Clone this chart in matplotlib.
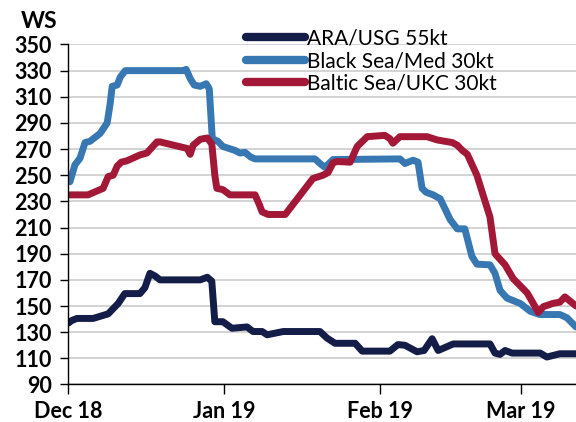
import numpy as np
import pandas as pd
import matplotlib
matplotlib.use("Agg")
import matplotlib.pyplot as plt
import matplotlib.dates as mdates

plt.rcParams['font.family'] = ['Lato', 'DejaVu Sans']

# days since 1 Dec 2018 and WS values
ara_days = [0, 0.7, 1.7, 4.9, 7.9, 9.9, 11.2, 14.2, 15.2, 16.2, 17.2, 18.2, 26.2, 27.6, 28.5,
            29.1, 30.7, 32.5, 35.5, 36.7, 38.5, 39.5, 42.7, 50, 51.4, 53, 57, 58.4, 63.9,
            65.5, 66.9, 69.3, 70.7, 72.3, 73.5, 76.5, 83.8, 84.8, 85.8, 86.8, 88.2, 93.8,
            95.1, 97.7, 100.9]
ara_ws = [137, 139, 140.5, 140.5, 144, 152, 159.5, 159.5, 164, 175, 173, 170, 170, 172, 169,
          138, 138, 133, 134, 130.5, 130.5, 128, 130.5, 130.5, 125.5, 121.5, 121.5, 115.5, 115.5,
          120.5, 120, 115, 116, 125, 116, 121, 121, 114, 113, 116, 114, 114,
          111, 113.5, 113.5]

bsm_days = [0.3, 1.3, 2.3, 3.3, 4.3, 6.3, 7.7, 8.3, 8.7, 9.7, 10.3, 11.3, 22.8, 23.4, 24.2,
            25, 26.2, 27.4, 28, 28.6, 29.7, 30.7, 33.1, 34.1, 35.1, 36.2, 37.1, 49, 50, 51,
            52.6, 65.9, 66.9, 68.5, 69.5, 70.3, 71.1, 72.5, 73.9, 75.9, 77.3, 78.8, 80.2,
            81.2, 83.8, 84.8, 85.8, 87.2, 89.8, 91.8, 93.7, 97.7, 99.1, 100.9]
bsm_ws = [245, 258, 263, 275, 276, 282, 290, 305, 318, 319, 325, 330, 330, 331, 324,
          319, 318, 320, 316, 278, 276, 272, 269, 267, 267.5, 264, 262.5, 262.5, 259, 256,
          262, 262.5, 259, 261.5, 260, 240, 237, 235, 232, 216, 209, 209, 188,
          182, 181.5, 175, 162, 156, 152, 146, 143.5, 143.5, 141, 134]

bal_days = [0, 3.9, 6.9, 7.9, 8.9, 9.7, 10.5, 11.6, 14.2, 15.6, 17.6, 18.2, 23.6, 24.2, 24.8,
            26.2, 27.6, 28.5, 29.1, 29.5, 30.7, 32.1, 37.1, 37.9, 38.5, 39.7, 43.1, 48.6,
            50.6, 51.6, 52.6, 53.4, 56, 57.4, 59.4, 62.9, 63.9, 64.5, 65.9, 71.3, 73.3, 76.3,
            77.3, 78.3, 79.3, 81.2, 83.8, 84.8, 86.8, 88.4, 91.2, 92.4, 93.4, 94.4, 96.3,
            97.7, 98.7, 100.9]
bal_ws = [235, 235, 240, 249, 250, 257, 260, 261, 265.5, 267, 275.5, 275.5, 270.5, 266, 273,
          277.5, 278.5, 274, 250, 240, 239, 235, 235, 228, 222, 220, 220, 247.5,
          250, 252, 259.5, 260.5, 260, 272, 279.5, 280.5, 278, 274.5, 279.5, 279.5, 277, 275,
          273, 269, 266, 250, 218, 190, 181.5, 171, 160, 152, 145, 149.5, 152,
          153, 157, 150]

labels = ['ARA/USG 55kt', 'Black Sea/Med 30kt', 'Baltic Sea/UKC 30kt']
colors = ['#141c48', '#3878b2', '#a31737']

start = pd.Timestamp('2018-12-01')
def to_dates(days):
    return start + pd.to_timedelta(np.array(days), unit='D')

fig = plt.figure(figsize=(5.76, 4.22), dpi=100)
ax = fig.add_axes([0.1188, 0.0889, 0.8812, 0.8057])

for d, v, lab, c in zip([ara_days, bsm_days, bal_days], [ara_ws, bsm_ws, bal_ws], labels, colors):
    ax.plot(to_dates(d), v, color=c, lw=5, label=lab,
            solid_capstyle='round', solid_joinstyle='round')

ax.set_ylim(90, 350)
ax.set_yticks(np.arange(90, 351, 20))
ax.set_xlim(start, start + pd.Timedelta(days=100.9))
ax.xaxis.set_major_locator(mdates.MonthLocator())
ax.xaxis.set_major_formatter(mdates.DateFormatter('%b %y'))

ax.grid(axis='y', color='#cccccc', lw=1.2)
ax.set_axisbelow(True)
for s in ['top', 'right']:
    ax.spines[s].set_visible(False)
for s in ['left', 'bottom']:
    ax.spines[s].set_color('black')
    ax.spines[s].set_linewidth(1)

ax.tick_params(axis='y', length=6, width=1, pad=6, labelsize=15.5)
ax.tick_params(axis='x', length=7, width=1, pad=5, labelsize=15.5)
for t in ax.get_xticklabels() + ax.get_yticklabels():
    t.set_fontweight('bold')

fig.text(0.068, 0.95, 'WS', fontsize=16.5, fontweight='bold', ha='center', va='center')

leg = ax.legend(loc='upper left', bbox_to_anchor=(0.427, 0.932), bbox_transform=fig.transFigure,
                frameon=False, fontsize=15, handlelength=2.85, handletextpad=0.1,
                labelspacing=0.12, borderpad=0, borderaxespad=0)
for h in leg.get_lines():
    h.set_linewidth(6)

fig.savefig('out.png', dpi=100)
